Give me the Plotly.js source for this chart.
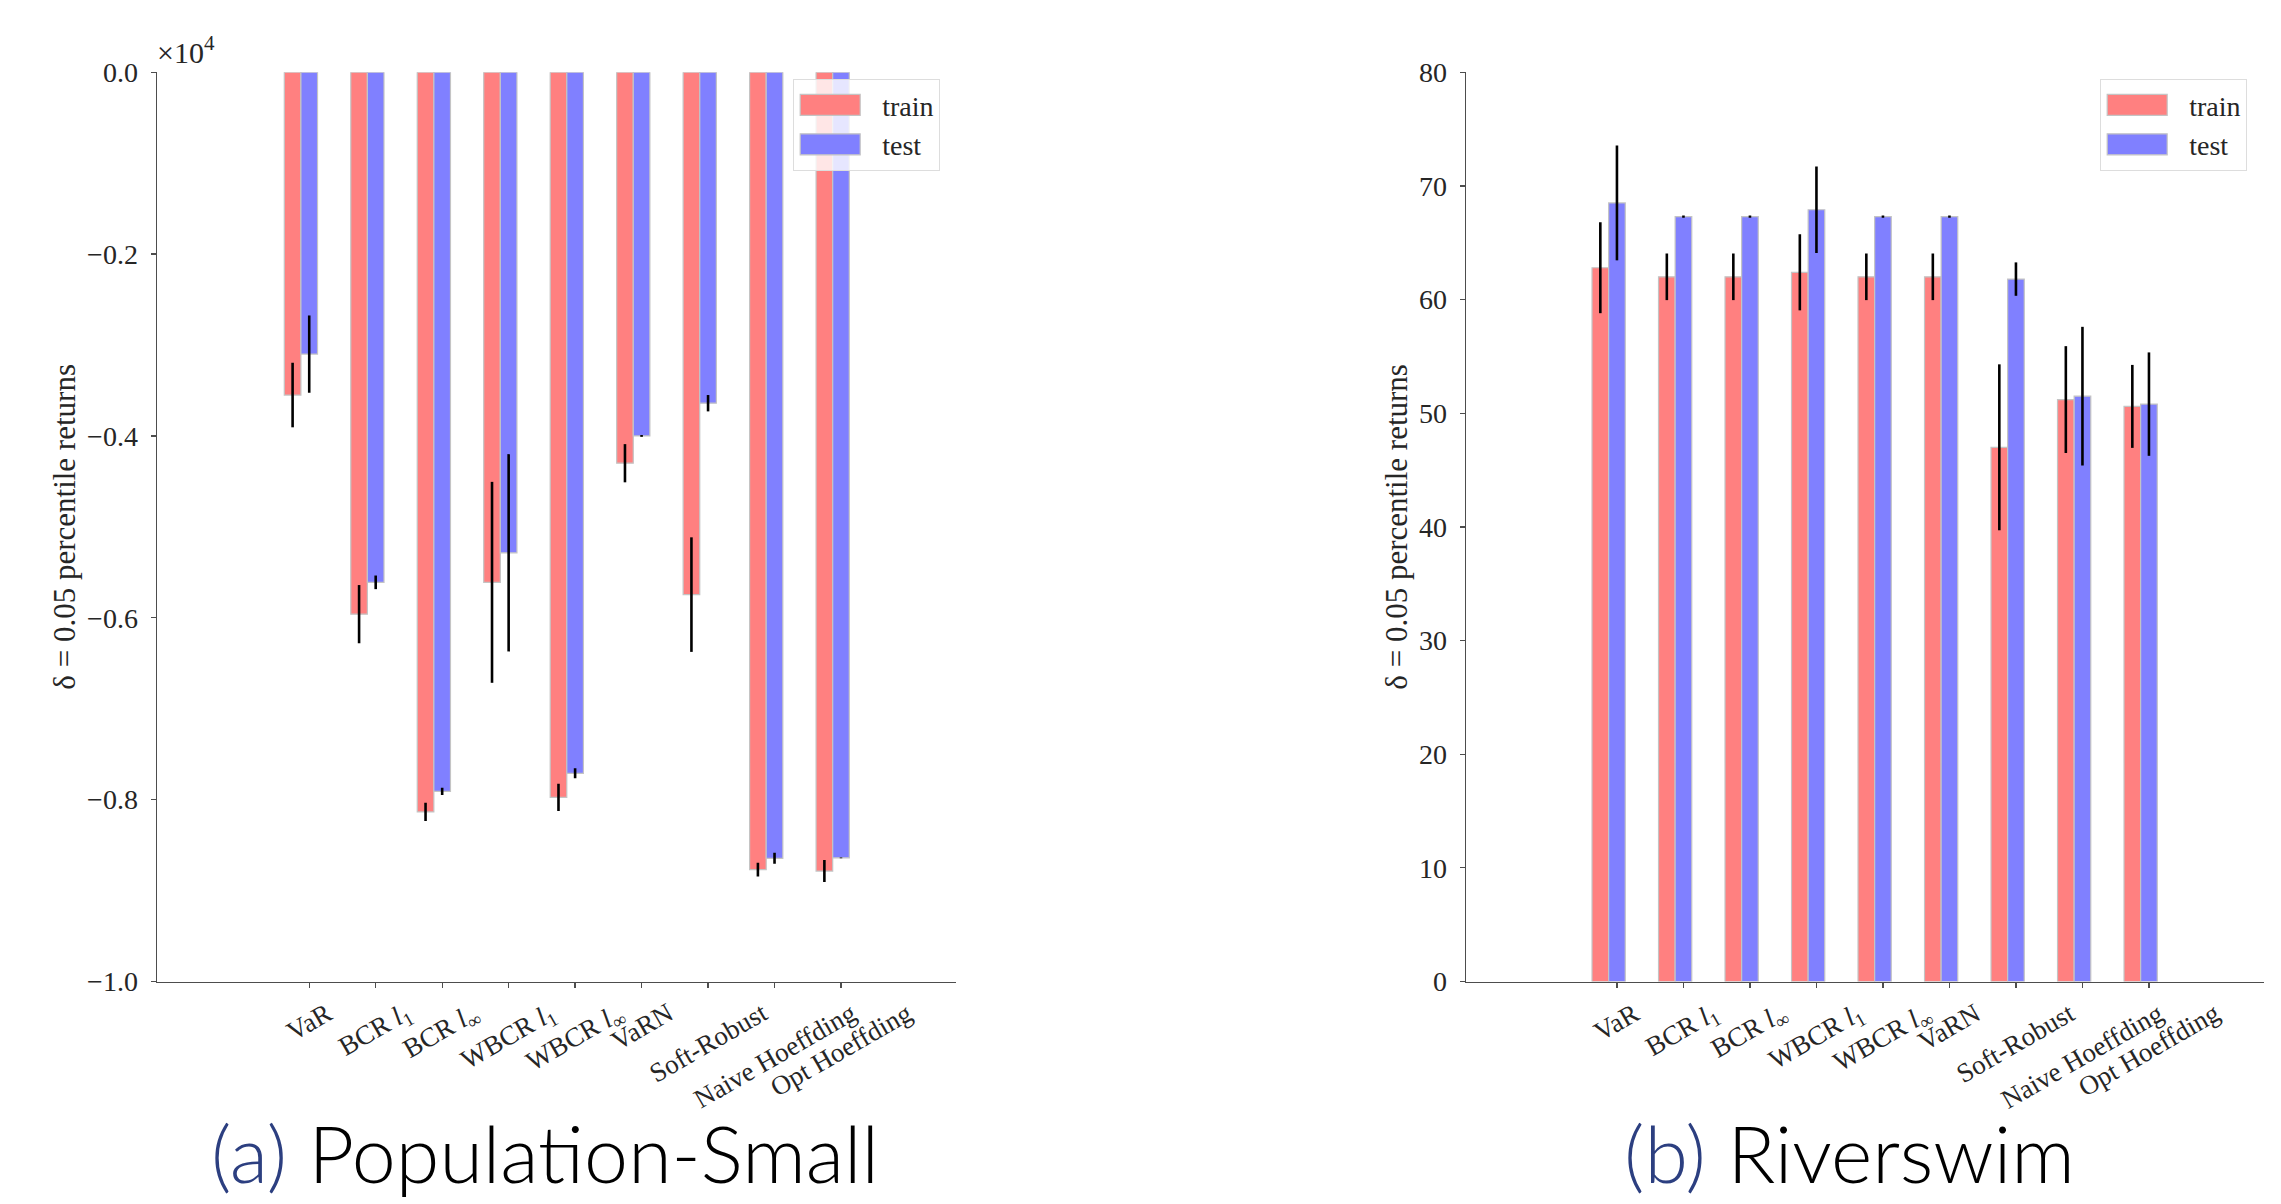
<!DOCTYPE html>
<html>
<head>
<meta charset="utf-8">
<script src="https://cdn.plot.ly/plotly-3.0.1.min.js"></script>
<style>html,body{margin:0;padding:0;background:#fff;}#chart{width:2281px;height:1204px;}</style>
</head>
<body>
<div id="chart"></div>
<script>
// ---- data ----
const categories = ["VaR", "BCR <i>l</i><sub>1</sub>", "BCR <i>l</i><sub>∞</sub>", "WBCR <i>l</i><sub>1</sub>",
  "WBCR <i>l</i><sub>∞</sub>", "VaRN", "Soft-Robust", "Naive Hoeffding", "Opt Hoeffding"];

// (a) Population-Small  (actual returns; axis shown in units of 10^4)
const popTrain    = [-3550, -5960, -8135, -5610, -7975, -4300, -5745, -8770, -8785];
const popTrainErr = [355, 320, 100, 1105, 150, 210, 630, 75, 120];
const popTest     = [-3100, -5610, -7910, -5285, -7710, -4000, -3640, -8645, -8640];
const popTestErr  = [425, 75, 40, 1085, 55, 10, 90, 60, 5];
const popTickVals = [-10000, -8000, -6000, -4000, -2000, 0];
const popTickText = ["−1.0", "−0.8", "−0.6", "−0.4", "−0.2", "0.0"];

// (b) Riverswim
const rivTrain    = [62.8, 62.0, 62.0, 62.4, 62.0, 62.0, 47.0, 51.2, 50.6];
const rivTrainErr = [4.0, 2.05, 2.05, 3.35, 2.05, 2.05, 7.3, 4.7, 3.65];
const rivTest     = [68.5, 67.3, 67.3, 67.9, 67.3, 67.3, 61.8, 51.5, 50.8];
const rivTestErr  = [5.05, 0.1, 0.1, 3.8, 0.1, 0.1, 1.47, 6.1, 4.55];
const rivTickVals = [0, 10, 20, 30, 40, 50, 60, 70, 80];

const seriesNames = ["train", "test"];
const captions = ["<span style='color:#2c3f80'>(a)</span> Population-Small",
                  "<span style='color:#2c3f80'>(b)</span> Riverswim"];
const yTitle = "δ = 0.05 percentile returns";

// ---- styling ----
const barWidth = 0.25;
const trainColor = "#ff8080";
const testColor = "#8080ff";
const edge = {color: "#c4c4c4", width: 1.2};
const serif = "Liberation Serif, Times New Roman, serif";
const textColor = "#262626";
const axisColor = "#4d4d4d";

const idx = categories.map((c, i) => i);
const idxTest = idx.map(i => i + barWidth);

function barTrace(xs, ys, errs, name, color, xa, ya, legend) {
  return {
    type: "bar", x: xs, y: ys, width: barWidth, name: name,
    marker: {color: color, line: edge},
    error_y: {type: "data", array: errs, visible: true, color: "#000", thickness: 2.6, width: 0},
    xaxis: xa, yaxis: ya, legend: legend, hoverinfo: "skip"
  };
}

const traces = [
  barTrace(idx, popTrain, popTrainErr, seriesNames[0], trainColor, "x", "y", "legend"),
  barTrace(idxTest, popTest, popTestErr, seriesNames[1], testColor, "x", "y", "legend"),
  barTrace(idx, rivTrain, rivTrainErr, seriesNames[0], trainColor, "x2", "y2", "legend2"),
  barTrace(idxTest, rivTest, rivTestErr, seriesNames[1], testColor, "x2", "y2", "legend2")
];

const yDomain = [0.1848, 0.94];
function xAxis(domain, anchor, range) {
  return {
    domain: domain, anchor: anchor, range: range, showgrid: false, zeroline: false,
    showline: true, linecolor: axisColor, linewidth: 1.5,
    ticks: "outside", ticklen: 5, tickcolor: axisColor, tickwidth: 1.3,
    tickvals: idxTest, showticklabels: false, fixedrange: true
  };
}
function yAxis(anchor, range, tickvals, ticktext) {
  const a = {
    domain: yDomain, anchor: anchor, range: range, showgrid: false, zeroline: false,
    showline: true, linecolor: axisColor, linewidth: 1.5,
    ticks: "outside", ticklen: 5, tickcolor: axisColor, tickwidth: 1.3,
    tickvals: tickvals, ticklabelstandoff: 7,
    tickfont: {family: serif, size: 28, color: textColor},
    title: {text: yTitle, font: {family: serif, size: 31, color: textColor}, standoff: 2},
    fixedrange: true
  };
  if (ticktext) a.ticktext = ticktext;
  return a;
}

const annotations = [];
[["x", "y"], ["x2", "y2"]].forEach(([xa, ya]) => {
  categories.forEach((c, i) => {
    annotations.push({
      text: c, x: idxTest[i], xref: xa, y: 0, yref: ya + " domain",
      xanchor: "center", yanchor: "top", yshift: -13, textangle: -30,
      showarrow: false, font: {family: serif, size: 27, color: textColor}
    });
  });
});
annotations.push({
  text: "×10<sup>4</sup>", x: 0, xref: "x domain", y: 1, yref: "y domain",
  xanchor: "left", yanchor: "bottom", xshift: -2, yshift: 1, showarrow: false,
  font: {family: serif, size: 30, color: textColor}
});
const captionFont = {family: "Lato, Open Sans, sans-serif", size: 79, weight: 300, color: "#000"};
annotations.push({
  text: captions[0], x: 0.239, xref: "paper", y: 0.0, yref: "paper",
  xanchor: "center", yanchor: "bottom", yshift: 2, showarrow: false, font: captionFont
});
annotations.push({
  text: captions[1], x: 0.811, xref: "paper", y: 0.0, yref: "paper",
  xanchor: "center", yanchor: "bottom", yshift: 2, showarrow: false, font: captionFont
});

const legendStyle = (x) => ({
  x: x, y: 1 - 79 / 1204, xref: "paper", yref: "paper", xanchor: "left", yanchor: "top",
  bgcolor: "rgba(255,255,255,0.8)", bordercolor: "#dddddd", borderwidth: 1.2,
  font: {family: serif, size: 28, color: textColor}, itemwidth: 78, traceorder: "normal"
});

const layout = {
  width: 2281, height: 1204,
  margin: {l: 0, r: 0, t: 0, b: 0},
  paper_bgcolor: "#fff", plot_bgcolor: "#fff",
  barmode: "overlay", showlegend: true,
  xaxis: xAxis([157 / 2281, 956 / 2281], "y", [-2.04, 9.98]),
  yaxis: yAxis("x", [-10000, 0], popTickVals, popTickText),
  xaxis2: xAxis([1466 / 2281, 2264 / 2281], "y2", [-2.02, 9.98]),
  yaxis2: yAxis("x2", [0, 80], rivTickVals, null),
  legend: legendStyle(793 / 2281),
  legend2: legendStyle(2100 / 2281),
  annotations: annotations
};

Plotly.newPlot("chart", traces, layout, {displayModeBar: false, staticPlot: true}).then(gd => {
  // wider legend patches, like the reference's matplotlib legend handles
  gd.querySelectorAll(".legendpoints path").forEach(p => p.setAttribute("d", "M-38,-10.5H22V10.5H-38Z"));
});
</script>
</body>
</html>
